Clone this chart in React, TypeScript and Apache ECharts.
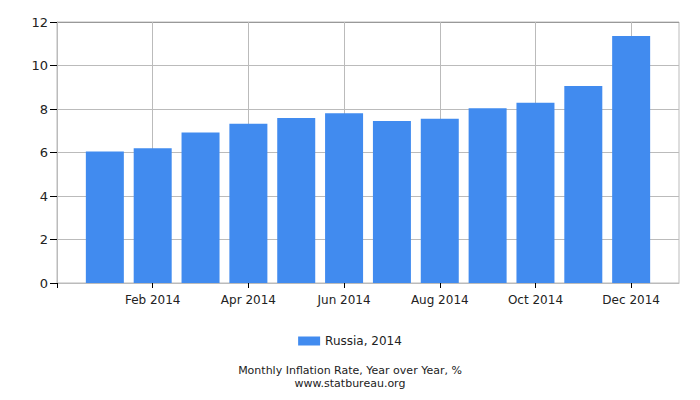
import React, { useEffect, useRef } from 'react'
import * as echarts from 'echarts'

const months = ['Jan 2014', 'Feb 2014', 'Mar 2014', 'Apr 2014', 'May 2014', 'Jun 2014', 'Jul 2014', 'Aug 2014', 'Sep 2014', 'Oct 2014', 'Nov 2014', 'Dec 2014']
const inflation = [6.05, 6.19, 6.92, 7.32, 7.59, 7.8, 7.45, 7.55, 8.03, 8.29, 9.06, 11.36]
const seriesName = 'Russia, 2014'
const titleText = 'Monthly Inflation Rate, Year over Year, %'
const sourceText = 'www.statbureau.org'

const font = 'DejaVu Sans'

export default function App(): JSX.Element {
  const ref = useRef<HTMLDivElement>(null)

  useEffect(() => {
    if (!ref.current) return
    const chart = echarts.init(ref.current, undefined, { renderer: 'svg' })
    // months sit at 1..12 on a 0..13 value axis, that gives the half-band padding
    const data = inflation.map((v, i) => [i + 1, v])
    const titleStyle = { fontFamily: font, fontSize: 11, lineHeight: 11, fontWeight: 'normal', color: '#222' }
    chart.setOption({
      animation: false,
      textStyle: { fontFamily: font },
      title: [
        { text: titleText, left: 'center', top: 365, padding: 0, textStyle: titleStyle },
        { text: sourceText, left: 'center', top: 378, padding: 0, textStyle: titleStyle },
      ],
      legend: {
        bottom: 48, left: 'center', itemWidth: 22, itemHeight: 9, icon: 'rect', itemGap: 5,
        textStyle: { fontFamily: font, fontSize: 12, color: '#222' },
        data: [seriesName],
      },
      grid: { left: 57, right: 21, top: 22, bottom: 117, show: true, borderColor: '#bbb', borderWidth: 1, containLabel: false },
      xAxis: {
        type: 'value', min: 0, max: 13, interval: 2,
        axisLine: { show: true, lineStyle: { color: '#bbb' } },
        axisTick: { show: true, length: 5, lineStyle: { color: '#000' }, customValues: [0, 2, 4, 6, 8, 10, 12] },
        axisLabel: {
          margin: 11, fontFamily: font, fontSize: 12, color: '#222',
          customValues: [2, 4, 6, 8, 10, 12],
          formatter: (v: number) => months[v - 1] ?? '',
        },
        splitLine: { show: true, lineStyle: { color: '#bbb' } },
      },
      yAxis: {
        type: 'value', min: 0, max: 12, interval: 2,
        axisLine: { show: true, lineStyle: { color: '#bbb' } },
        axisTick: { show: true, length: 7, lineStyle: { color: '#000' } },
        axisLabel: { margin: 9, fontFamily: font, fontSize: 13, color: '#222' },
        splitLine: { show: true, lineStyle: { color: ['#bbb', '#bbb', '#bbb', '#bbb', '#bbb', '#bbb', '#999'] } },
      },
      series: [{
        name: seriesName, type: 'bar', barWidth: 38, data,
        itemStyle: { color: '#418bef' },
      }],
    })
    return () => { chart.dispose() }
  }, [])

  return <div ref={ref} style={{ width: 700, height: 400, margin: -8 }} />
}
